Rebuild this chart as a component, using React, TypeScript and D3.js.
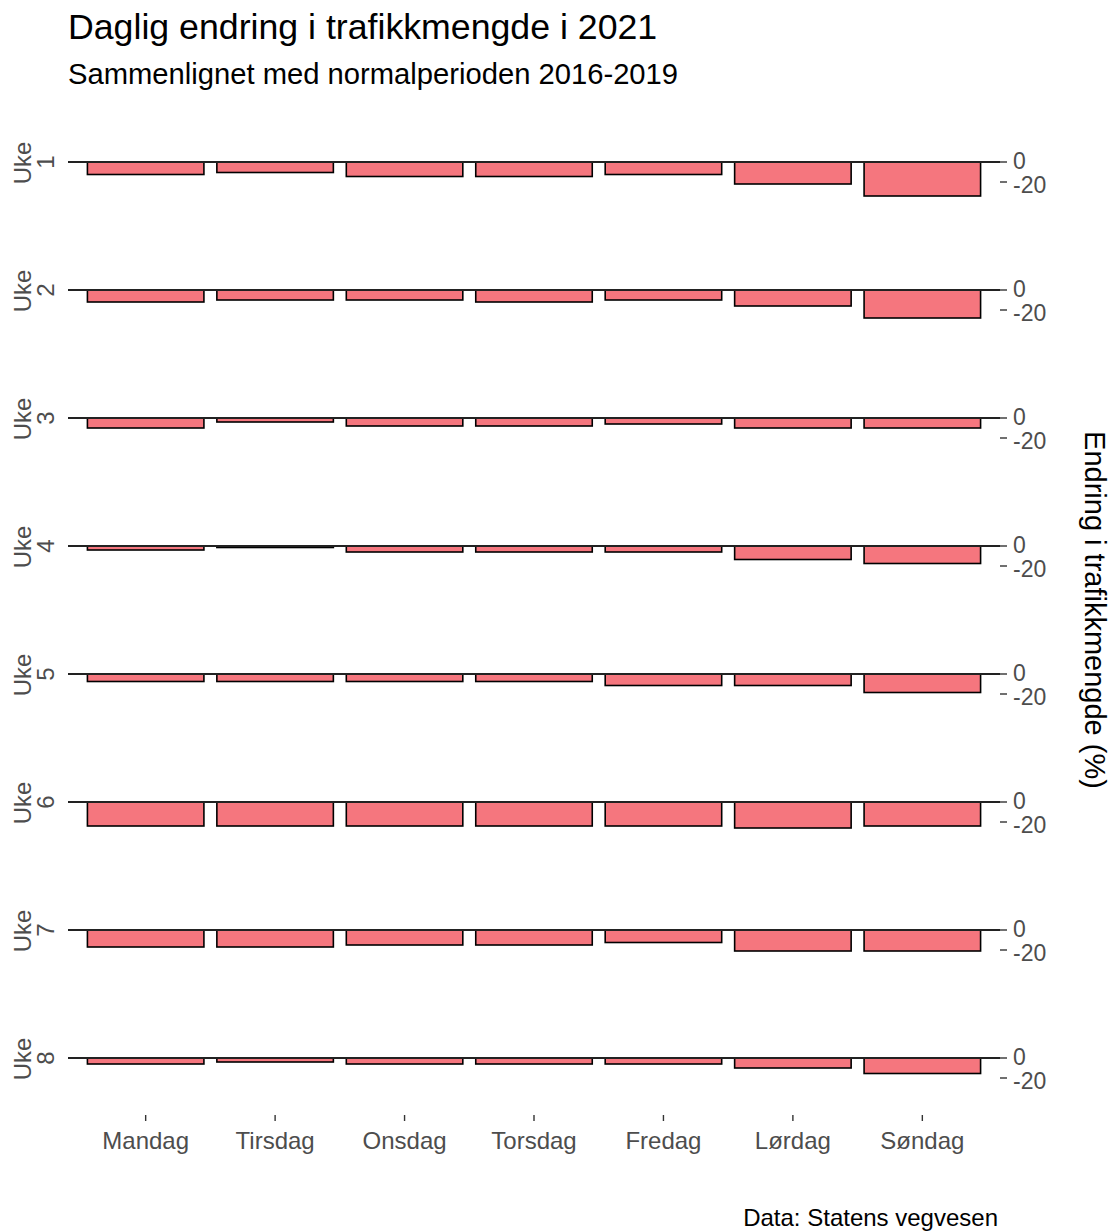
import React from "react";
import * as d3 from "d3";

const days = ["Mandag", "Tirsdag", "Onsdag", "Torsdag", "Fredag", "Lørdag", "Søndag"];
const weeks = ["1", "2", "3", "4", "5", "6", "7", "8"];
const week1 = [-12.5, -10.5, -14.5, -14.5, -12.5, -22, -34];
const week2 = [-12, -10, -10, -12, -10, -16, -28];
const week3 = [-10, -4, -8, -8, -6, -10, -10];
const week4 = [-4, -1.5, -6, -6, -6, -13.5, -17.5];
const week5 = [-7.5, -7.5, -7.5, -7.5, -11.5, -11.5, -18.5];
const week6 = [-24, -24, -24, -24, -24, -26, -24];
const week7 = [-17, -17, -15, -15, -12.5, -21, -21];
const week8 = [-6, -4, -6, -6, -6, -10, -15.5];
const yTicks = [0, -20];

const series = [week1, week2, week3, week4, week5, week6, week7, week8];

const W = 1115;
const H = 1232;
const panelLeft = 68;
const panelRight = 1000;
const firstTop = 105;
const panelH = 114;
const rowStep = 128;
const FONT = "'Liberation Sans', Arial, sans-serif";

export default function App() {
  const x = d3
    .scaleBand<string>()
    .domain(days)
    .range([panelLeft, panelRight])
    .paddingInner(0.1)
    .paddingOuter(0.15);

  const lastBottom = firstTop + (weeks.length - 1) * rowStep + panelH;

  return (
    <svg width={W} height={H} style={{ position: "absolute", left: 0, top: 0 }} fontFamily={FONT}>
      <rect width={W} height={H} fill="#fff" />
      <text x={68} y={39} fontSize={35.7} fill="#000">
        Daglig endring i trafikkmengde i 2021
      </text>
      <text x={68} y={84} fontSize={29.2} fill="#000">
        Sammenlignet med normalperioden 2016-2019
      </text>

      {weeks.map((wk, i) => {
        const top = firstTop + i * rowStep;
        const y = d3.scaleLinear().domain([panelH / 2, -panelH / 2]).range([top, top + panelH]);
        const vals = series[i];
        const cy = y(0);
        return (
          <g key={wk}>
            <text
              transform={`translate(22,${cy + 1}) rotate(-90)`}
              textAnchor="middle"
              dominantBaseline="central"
              fontSize={24}
              fill="#4D4D4D"
            >
              Uke
            </text>
            <text
              transform={`translate(45,${cy}) rotate(-90)`}
              textAnchor="middle"
              dominantBaseline="central"
              fontSize={24}
              fill="#4D4D4D"
            >
              {wk}
            </text>
            {vals.map((v, j) => (
              <rect
                key={j}
                x={x(days[j])!}
                width={x.bandwidth()}
                y={Math.min(y(0), y(v))}
                height={Math.abs(y(v) - y(0))}
                fill="#F5767E"
                stroke="#000"
                strokeWidth={1.6}
              />
            ))}
            <line x1={panelLeft} x2={panelRight} y1={cy} y2={cy} stroke="#222" strokeWidth={1.8} />
            {yTicks.map((t) => (
              <g key={t}>
                <line x1={panelRight} x2={panelRight + 7} y1={y(t)} y2={y(t)} stroke="#333" strokeWidth={1.4} />
                <text
                  x={panelRight + 13}
                  y={y(t) + (t === 0 ? -1.5 : 2.5)}
                  dominantBaseline="central"
                  fontSize={23}
                  fill="#4D4D4D"
                >
                  {t === 0 ? "0" : `-${Math.abs(t)}`}
                </text>
              </g>
            ))}
          </g>
        );
      })}

      {days.map((d) => {
        const cx = x(d)! + x.bandwidth() / 2;
        return (
          <g key={d}>
            <line x1={cx} x2={cx} y1={lastBottom} y2={lastBottom + 6} stroke="#333" strokeWidth={1.4} />
            <text x={cx} y={lastBottom + 34} textAnchor="middle" fontSize={24} fill="#4D4D4D">
              {d}
            </text>
          </g>
        );
      })}

      <text
        transform={`translate(1095,${(firstTop + lastBottom) / 2}) rotate(90)`}
        textAnchor="middle"
        dominantBaseline="central"
        fontSize={29}
        fill="#000"
      >
        Endring i trafikkmengde (%)
      </text>

      <text x={998} y={1226} textAnchor="end" fontSize={24} fill="#000">
        Data: Statens vegvesen
      </text>
    </svg>
  );
}
